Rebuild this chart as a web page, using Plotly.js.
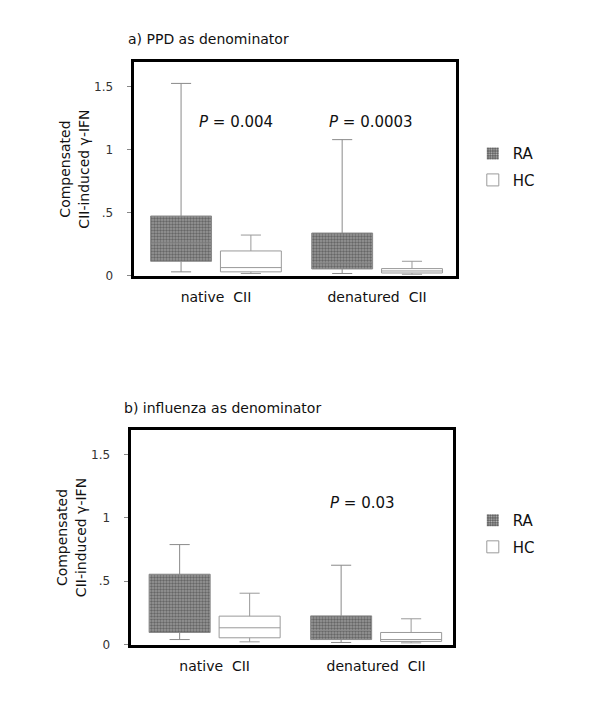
<!DOCTYPE html>
<html>
<head>
<meta charset="utf-8">
<script src="https://cdn.plot.ly/plotly-3.0.1.min.js"></script>
<style>html,body{margin:0;padding:0;background:#fff;}#chart{width:600px;height:707px;}</style>
</head>
<body>
<div id="chart"></div>
<script>
// categories
const categories = ['native\u00a0\u00a0CII', 'denatured\u00a0\u00a0CII'];
const groups = ['RA', 'HC'];
const tickVals = [0, 0.5, 1, 1.5];
const tickText = ['0', '.5', '1', '1.5'];

// panel a) PPD as denominator
const aRA_low  = [0.029, 0.016];
const aRA_q1   = [0.113, 0.052];
const aRA_med  = [0.258, 0.100];
const aRA_q3   = [0.472, 0.337];
const aRA_high = [1.524, 1.078];

const aHC_low  = [0.016, 0.010];
const aHC_q1   = [0.029, 0.020];
const aHC_med  = [0.063, 0.036];
const aHC_q3   = [0.195, 0.055];
const aHC_high = [0.321, 0.113];

// panel b) influenza as denominator
const bRA_low  = [0.039, 0.016];
const bRA_q1   = [0.095, 0.039];
const bRA_med  = [0.208, 0.110];
const bRA_q3   = [0.555, 0.226];
const bRA_high = [0.789, 0.626];

const bHC_low  = [0.021, 0.013];
const bHC_q1   = [0.053, 0.024];
const bHC_med  = [0.132, 0.039];
const bHC_q3   = [0.224, 0.095];
const bHC_high = [0.405, 0.203];

// p-value labels
const pA = ['0.004', '0.0003'];
const pB = ['', '0.03'];

// ---- styling / layout ----
const FONT = 'DejaVu Sans, Liberation Sans, Arial, sans-serif';
const catIdx = categories.map((c, i) => i);
const GROUP_SHIFT = 0.2167;   // half distance between RA and HC box centres
const BOX_W = 0.378;          // box width in category units
const shiftOf = {RA: -GROUP_SHIFT, HC: GROUP_SHIFT};

function patternBar(q1, q3, xa, ya, legend) {
  return {
    type: 'bar', x: catIdx.map(i => i + shiftOf.RA), base: q1,
    y: q3.map((v, i) => v - q1[i]),
    width: BOX_W,
    xaxis: xa, yaxis: ya, name: groups[0], legend: legend, legendgroup: 'ra' + legend,
    showlegend: true, hoverinfo: 'skip',
    marker: {
      color: '#5a5a5a',
      line: {width: 0},
      pattern: {shape: '.', fgcolor: '#bdbdbd', bgcolor: '#5c5c5c', size: 3, solidity: 0.4, fillmode: 'replace'}
    }
  };
}
function boxTrace(name, low, q1, med, q3, high, xa, ya, legend, fill, lineColor, showleg) {
  return {
    type: 'box', name: name, x: catIdx.map(i => i + shiftOf[name]),
    lowerfence: low, q1: q1, median: med, q3: q3, upperfence: high,
    width: BOX_W,
    xaxis: xa, yaxis: ya, legend: legend, legendgroup: name.toLowerCase() + legend,
    showlegend: showleg,
    fillcolor: fill, line: {color: lineColor, width: 1},
    whiskerwidth: 0.33, boxpoints: false, hoverinfo: 'skip'
  };
}

const data = [
  patternBar(aRA_q1, aRA_q3, 'x', 'y', 'legend'),
  boxTrace('RA', aRA_low, aRA_q1, aRA_med, aRA_q3, aRA_high, 'x', 'y', 'legend', 'rgba(0,0,0,0)', '#8a8a8a', false),
  boxTrace('HC', aHC_low, aHC_q1, aHC_med, aHC_q3, aHC_high, 'x', 'y', 'legend', '#ffffff', '#9a9a9a', true),
  patternBar(bRA_q1, bRA_q3, 'x2', 'y2', 'legend2'),
  boxTrace('RA', bRA_low, bRA_q1, bRA_med, bRA_q3, bRA_high, 'x2', 'y2', 'legend2', 'rgba(0,0,0,0)', '#8a8a8a', false),
  boxTrace('HC', bHC_low, bHC_q1, bHC_med, bHC_q3, bHC_high, 'x2', 'y2', 'legend2', '#ffffff', '#9a9a9a', true)
];

function xAxis(domain, range, anchor) {
  return {
    domain: domain, anchor: anchor, type: 'linear', range: range,
    tickvals: catIdx, ticktext: categories,
    showline: true, mirror: true, linecolor: '#000', linewidth: 3,
    showgrid: false, zeroline: false, ticks: '', fixedrange: true,
    ticklabelstandoff: 7,
    tickfont: {family: FONT, size: 14, color: '#111'}
  };
}
function yAxis(domain, anchor) {
  return {
    domain: domain, anchor: anchor, range: [0, 1.69],
    showline: true, mirror: true, linecolor: '#000', linewidth: 3,
    showgrid: false, zeroline: false,
    tickvals: tickVals, ticktext: tickText,
    ticks: 'outside', ticklen: 4, tickcolor: '#888', tickwidth: 1,
    ticklabelstandoff: 11,
    tickfont: {family: FONT, size: 12, color: '#333'},
    title: {text: 'Compensated<br>CII-induced \u03b3-IFN', font: {family: FONT, size: 14, color: '#111'}, standoff: 2}
  };
}
function legendCfg(yTop) {
  return {
    x: 0.788, y: yTop, xanchor: 'left', yanchor: 'top',
    bgcolor: 'rgba(0,0,0,0)', borderwidth: 0,
    font: {family: FONT, size: 15, color: '#111'},
    traceorder: 'grouped', tracegroupgap: 4, itemwidth: 30
  };
}

const layout = {
  width: 600, height: 707,
  margin: {l: 0, r: 0, t: 0, b: 0},
  paper_bgcolor: '#fff', plot_bgcolor: '#fff',
  showlegend: true,
  boxmode: 'overlay', barmode: 'overlay',
  font: {family: FONT, color: '#111'},
  xaxis: xAxis([0.2225, 0.7595], [-0.512, 1.488], 'y'),
  yaxis: yAxis([0.6103, 0.9116], 'x'),
  xaxis2: xAxis([0.2175, 0.7558], [-0.521, 1.479], 'y2'),
  yaxis2: yAxis([0.0884, 0.3911], 'x2'),
  legend: legendCfg(0.806),
  legend2: legendCfg(0.287),
  annotations: [
    {text: 'a) PPD as denominator', xref: 'paper', yref: 'paper', x: 126 / 600, y: 1 - 39 / 707,
     xanchor: 'left', yanchor: 'middle', showarrow: false, font: {family: FONT, size: 14, color: '#111'}},
    {text: 'b) influenza as denominator', xref: 'paper', yref: 'paper', x: 122 / 600, y: 1 - 408 / 707,
     xanchor: 'left', yanchor: 'middle', showarrow: false, font: {family: FONT, size: 14, color: '#111'}}
  ]
};

// p-value annotations
pA.forEach((p, i) => {
  if (p) layout.annotations.push({text: '<i>P</i> = ' + p, xref: 'x', yref: 'y', x: catIdx[i], xshift: [20, -6][i],
    y: 1.22, showarrow: false, font: {family: FONT, size: 15, color: '#111'}});
});
pB.forEach((p, i) => {
  if (p) layout.annotations.push({text: '<i>P</i> = ' + p, xref: 'x2', yref: 'y2', x: catIdx[i], xshift: -14,
    y: 1.12, showarrow: false, font: {family: FONT, size: 15, color: '#111'}});
});

Plotly.newPlot('chart', data, layout, {staticPlot: true, displayModeBar: false});
</script>
</body>
</html>
